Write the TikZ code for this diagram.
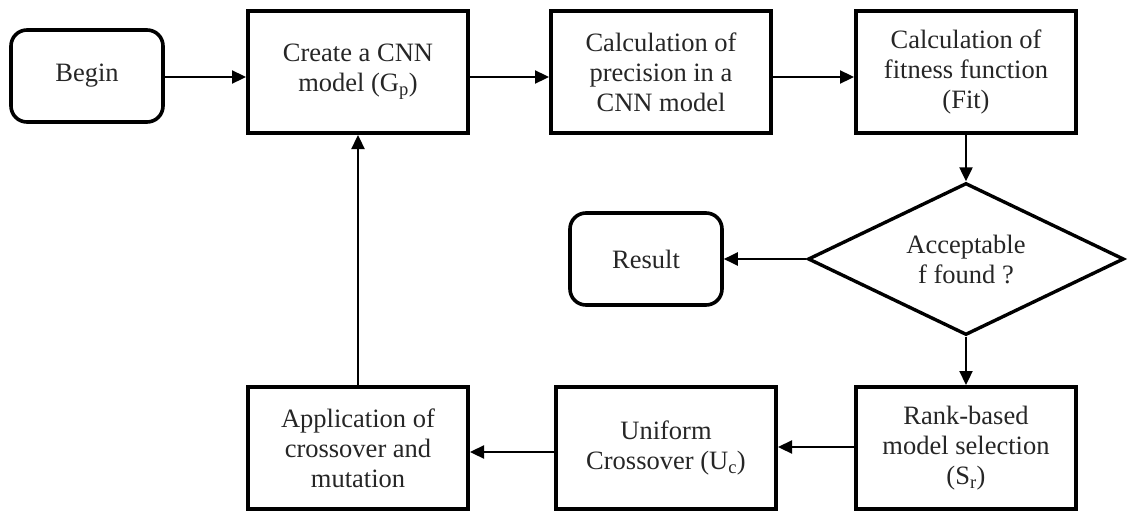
\documentclass[tikz,border=0pt]{standalone}
\usepackage{fontspec}
\setmainfont{Liberation Serif}
\usetikzlibrary{shapes.geometric,arrows.meta}

\begin{document}
\begin{tikzpicture}[x=1pt,y=-1pt,
  every node/.style={font=\fontsize{26.5}{30}\selectfont, text=black!85, align=center},
  procbox/.style={draw, line width=4pt, minimum width=220pt, minimum height=122pt, inner sep=0pt},
  termbox/.style={draw, line width=3.6pt, rounded corners=16pt, minimum width=152pt, minimum height=92pt, inner sep=0pt},
  decbox/.style={draw, diamond, line width=3.4pt, minimum width=316pt, minimum height=152pt, inner sep=0pt, aspect=2.08},
  flow/.style={line width=2.3pt, -{Triangle[length=14pt,width=13pt]}}]

  % page frame
  \useasboundingbox (0,0) rectangle (1128,514);

  % top row
  \node[termbox] (begin)  at (87,76)  {Begin};
  \node[procbox] (create) at (358,72) {Create a CNN\\model (G\textsubscript{p})};
  \node[procbox] (prec)   at (661,72) {Calculation of\\precision in a\\CNN model};
  \node[procbox] (fit)    at (966,72) {Calculation of\\fitness function\\(Fit)};

  % decision and result
  \node[decbox]  (dec)    at (966,259) {Acceptable\\f found ?};
  \node[termbox] (result) at (646,259) {Result};

  % bottom row
  \node[procbox] (rank) at (966,448) {Rank-based\\model selection\\(S\textsubscript{r})};
  \node[procbox] (unif) at (666,448) {Uniform\\Crossover (U\textsubscript{c})};
  \node[procbox] (app)  at (358,448) {Application of\\crossover and\\mutation};

  % row heights of the horizontal connectors
  \coordinate (rowA) at (0,77);
  \coordinate (rowB) at (0,447);
  \coordinate (rowC) at (0,452);

  % connectors
  \draw[flow] (begin.east |- rowA)  -- (create.west |- rowA);
  \draw[flow] (create.east |- rowA) -- (prec.west |- rowA);
  \draw[flow] (prec.east |- rowA)   -- (fit.west |- rowA);
  \draw[flow] (fit.south) -- (dec.north);
  \draw[flow] (dec.west)  -- (result.east);
  \draw[flow] (dec.south) -- (rank.north);
  \draw[flow] (rank.west |- rowB) -- (unif.east |- rowB);
  \draw[flow] (unif.west |- rowC) -- (app.east |- rowC);
  \draw[flow] (app.north) -- (create.south);
\end{tikzpicture}
\end{document}
